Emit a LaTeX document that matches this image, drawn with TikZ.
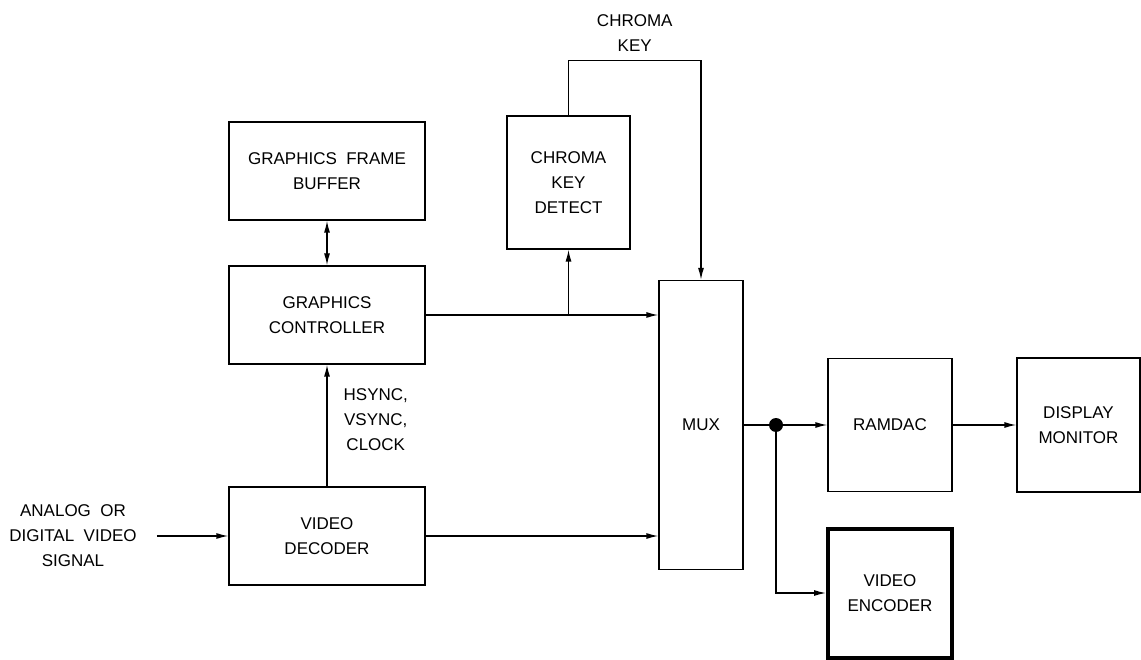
\documentclass[tikz,border=0pt]{standalone}
\usepackage{fontspec}
\setmainfont{Liberation Sans}
\usetikzlibrary{arrows.meta,positioning}

\begin{document}
\begin{tikzpicture}[x=1pt,y=-1pt,>={Latex[length=12pt,width=6pt]}]
    \tikzset{
      block/.style={draw,line width=1.3pt,align=center,inner sep=0pt,
        font=\fontsize{17}{25}\selectfont},
      label/.style={align=center,inner sep=0pt,font=\fontsize{17}{25}\selectfont},
      wire/.style={line width=1.3pt}
    }
    \useasboundingbox (0,0) rectangle (1141,660);
    \node[block,minimum width=196pt,minimum height=98pt] (gfb) at (327,171) {GRAPHICS\ \ FRAME\\BUFFER};
    \node[block,minimum width=196pt,minimum height=98pt] (gc) at (327,315) {GRAPHICS\\CONTROLLER};
    \node[block,minimum width=196pt,minimum height=98pt] (vd) at (327,536) {VIDEO\\DECODER};
    \node[block,minimum width=123pt,minimum height=133pt] (ckd) at (568.5,182.5) {CHROMA\\KEY\\DETECT};
    \node[block,minimum width=84pt,minimum height=289pt] (mux) at (701,425) {MUX};
    \node[block,minimum width=124pt,minimum height=133pt] (ramdac) at (890,425) {RAMDAC};
    \node[block,minimum width=123pt,minimum height=134pt] (display) at (1078.5,425) {DISPLAY\\MONITOR};
    \node[block,line width=4pt,minimum width=124pt,minimum height=129pt] (enc) at (890,593) {VIDEO\\ENCODER};
    \node[label,inner xsep=20pt] (input) at (73,536) {ANALOG\ \ OR\\DIGITAL\ \ VIDEO\\SIGNAL};
    \node[circle,fill,inner sep=0pt,minimum size=14pt] (dot) at (776,425) {};
    \coordinate (split) at (gc.east -| ckd.south);

    \draw[wire,<->] (gfb) -- (gc);
    \draw[wire,->] (vd) -- node[label,pos=0.55,right=16pt] {HSYNC,\\VSYNC,\\CLOCK} (gc);
    \draw[wire,->] (gc.east) -- (gc.east -| mux.west);
    \draw[wire,->] (split) -- (ckd.south);
    \draw[wire,->] (ckd.north) -- ++(0,-55) -- node[label,above=8pt] {CHROMA\\KEY} ++(132.5,0) -- (mux.north);
    \draw[wire,->] (input.east) -- (input.east -| vd.west);
    \draw[wire,->] (vd.east) -- (vd.east -| mux.west);
    \draw[wire] (mux.east) -- (dot);
    \draw[wire,->] (dot) -- (ramdac.west);
    \draw[wire,->] (dot) |- (enc.west);
    \draw[wire,->] (ramdac) -- (display);
  \end{tikzpicture}
\end{document}
